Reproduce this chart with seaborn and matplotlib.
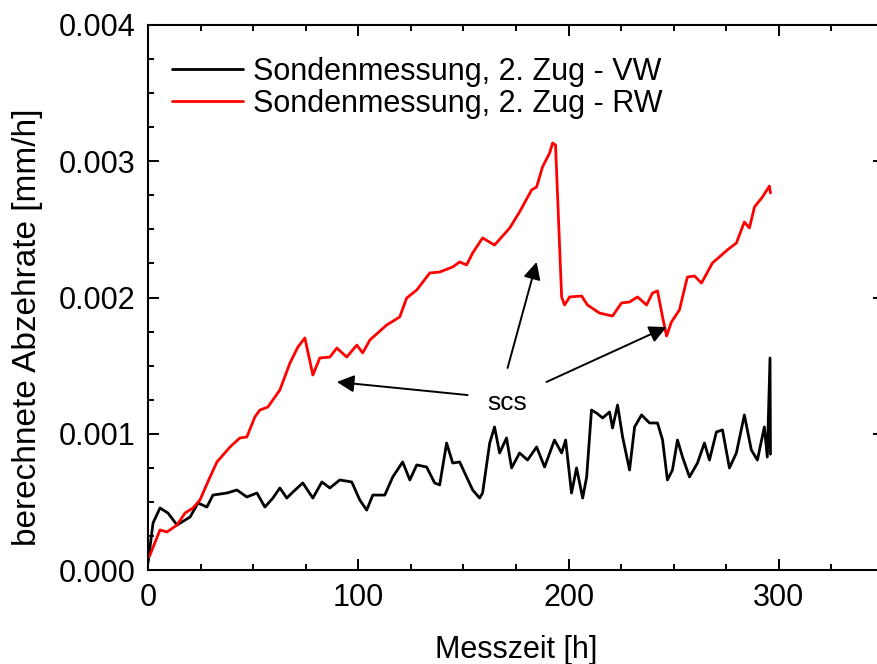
import matplotlib
matplotlib.use("Agg")
import matplotlib.pyplot as plt
from matplotlib.ticker import MultipleLocator, FormatStrFormatter
import seaborn as sns
import pandas as pd

# --- data ---
vw_time = [0, 2.4, 5.7, 9.5, 13.8, 20.0, 23.8, 28.0, 30.9, 37.5, 42.3, 47.0, 51.8, 55.6,
           59.4, 62.7, 66.0, 68.9, 73.6, 78.4, 82.7, 86.5, 91.2, 96.9, 100.7, 104.0, 106.9,
           112.6, 116.4, 121.1, 124.5, 127.8, 132.5, 136.3, 138.7, 142.0, 144.9, 148.2,
           151.5, 154.4, 157.7, 159.1, 162.5, 164.8, 167.2, 170.5, 172.9, 176.7, 180.5,
           184.8, 188.6, 193.3, 196.7, 198.6, 201.4, 203.8, 206.7, 208.6, 210.9, 213.3,
           216.2, 219.5, 220.9, 223.3, 225.7, 229.0, 231.4, 234.7, 238.5, 242.3, 244.7,
           247.0, 249.4, 251.8, 254.2, 257.5, 261.3, 264.6, 267.0, 270.3, 273.2, 276.5,
           279.8, 283.6, 286.9, 289.8, 293.1, 294.5, 295.8, 296.0]
vw_rate = [0.051, 0.345, 0.455, 0.418, 0.330, 0.389, 0.492, 0.462, 0.550, 0.565, 0.587,
           0.536, 0.565, 0.462, 0.528, 0.602, 0.528, 0.572, 0.639, 0.528, 0.646, 0.602,
           0.661, 0.646, 0.514, 0.440, 0.550, 0.550, 0.683, 0.793, 0.661, 0.771, 0.756,
           0.639, 0.624, 0.932, 0.785, 0.793, 0.683, 0.587, 0.528, 0.565, 0.932, 1.050,
           0.859, 0.969, 0.749, 0.859, 0.807, 0.903, 0.756, 0.954, 0.859, 0.954, 0.565,
           0.749, 0.528, 0.683, 1.174, 1.152, 1.116, 1.160, 1.042, 1.211, 0.976, 0.734,
           1.050, 1.138, 1.079, 1.079, 0.954, 0.661, 0.734, 0.954, 0.829, 0.683, 0.785,
           0.932, 0.807, 1.013, 1.028, 0.749, 0.859, 1.138, 0.881, 0.807, 1.050, 0.829,
           1.556, 0.850]

rw_time = [0, 0.95, 5.7, 9.0, 13.8, 17.6, 21.4, 24.7, 29.5, 32.8, 39.0, 43.7, 47.0, 50.8,
           53.2, 57.0, 62.7, 67.5, 71.3, 74.6, 78.4, 81.7, 86.5, 89.8, 94.5, 99.3, 102.1,
           105.5, 113.5, 119.7, 123.0, 127.8, 134.0, 138.7, 144.9, 148.2, 151.5, 154.4,
           159.1, 164.8, 168.2, 172.0, 176.7, 182.4, 184.8, 187.6, 191.0, 192.4, 193.8,
           196.7, 198.1, 200.5, 206.2, 209.0, 214.7, 220.9, 225.2, 229.0, 232.8, 237.1,
           239.9, 242.3, 244.7, 246.6, 248.9, 252.7, 256.5, 259.9, 263.2, 268.4, 275.5,
           279.8, 283.6, 286.0, 288.4, 292.2, 295.5, 296.0]
rw_rate = [0.088, 0.110, 0.294, 0.279, 0.330, 0.418, 0.455, 0.514, 0.683, 0.793, 0.903,
           0.969, 0.976, 1.123, 1.174, 1.196, 1.321, 1.519, 1.637, 1.703, 1.431, 1.556,
           1.563, 1.629, 1.563, 1.651, 1.593, 1.688, 1.798, 1.857, 1.996, 2.055, 2.180,
           2.187, 2.224, 2.261, 2.239, 2.327, 2.437, 2.385, 2.444, 2.510, 2.628, 2.789,
           2.811, 2.958, 3.061, 3.134, 3.119, 2.004, 1.945, 2.004, 2.011, 1.945, 1.886,
           1.864, 1.960, 1.967, 2.004, 1.945, 2.033, 2.048, 1.857, 1.717, 1.820, 1.908,
           2.150, 2.158, 2.106, 2.253, 2.349, 2.400, 2.554, 2.510, 2.664, 2.738, 2.818,
           2.767]

labels = ["Sondenmessung, 2. Zug - VW", "Sondenmessung, 2. Zug - RW"]
colors = ["black", "#ff0000"]

# annotation (tail x, tail y, head x, head y) in data units (rate in 1e-3 mm/h)
scs_text = (171.0, 1.226)
scs_arrows = [(152.0, 1.284, 89.8, 1.380),
              (171.0, 1.483, 184.8, 2.261),
              (189.5, 1.380, 246.6, 1.783)]

sns.set_theme(style="ticks")
plt.rcParams["font.family"] = ["Liberation Sans", "DejaVu Sans"]
plt.rcParams["text.color"] = "black"
plt.rcParams["axes.labelcolor"] = "black"
plt.rcParams["xtick.color"] = "black"
plt.rcParams["ytick.color"] = "black"

df = pd.concat([
    pd.DataFrame({"t": vw_time, "r": [v * 1e-3 for v in vw_rate], "s": labels[0]}),
    pd.DataFrame({"t": rw_time, "r": [v * 1e-3 for v in rw_rate], "s": labels[1]}),
], ignore_index=True)

fig = plt.figure(figsize=(8.77, 6.64), dpi=100)
ax = fig.add_axes([148 / 877, 94 / 664, 736 / 877, 545 / 664])

sns.lineplot(data=df, x="t", y="r", hue="s", palette=colors, sort=False,
             estimator=None, linewidth=2.0, ax=ax)

ax.set_xlim(0, 350)
ax.set_ylim(0, 0.004)
ax.xaxis.set_major_locator(MultipleLocator(100))
ax.xaxis.set_minor_locator(MultipleLocator(25))
ax.yaxis.set_major_locator(MultipleLocator(0.001))
ax.yaxis.set_minor_locator(MultipleLocator(0.00025))
ax.yaxis.set_major_formatter(FormatStrFormatter("%.3f"))

for sp in ax.spines.values():
    sp.set_visible(True)
    sp.set_linewidth(1.5)
    sp.set_color("black")
ax.tick_params(which="both", direction="in", top=True, right=True, width=1.4,
               colors="black", labelcolor="black", labelsize=22, pad=9)
ax.tick_params(which="major", length=8)
ax.tick_params(which="minor", length=4.5)

ax.set_xlabel("Messzeit [h]", fontsize=22, labelpad=16, color="black")
ax.set_ylabel("berechnete Abzehrate [mm/h]", fontsize=24, color="black")
ax.yaxis.set_label_coords(-0.143, 0.446)

leg = ax.legend(loc="upper left", bbox_to_anchor=(0.032, 0.941), frameon=False,
                fontsize=22, handlelength=2.35, handletextpad=0.3, labelspacing=0.05,
                borderaxespad=0, borderpad=0, labelcolor="black")
for line in leg.get_lines():
    line.set_linewidth(2.0)

ax.text(scs_text[0], scs_text[1] * 1e-3, "scs", fontsize=19, ha="center", va="center",
        color="black")
for tx, ty, hx, hy in scs_arrows:
    ax.annotate("", xy=(hx, hy * 1e-3), xytext=(tx, ty * 1e-3),
                arrowprops=dict(arrowstyle="-|>", color="black", lw=1.4,
                                mutation_scale=26, shrinkA=0, shrinkB=0))

fig.savefig("out.png", dpi=100)
